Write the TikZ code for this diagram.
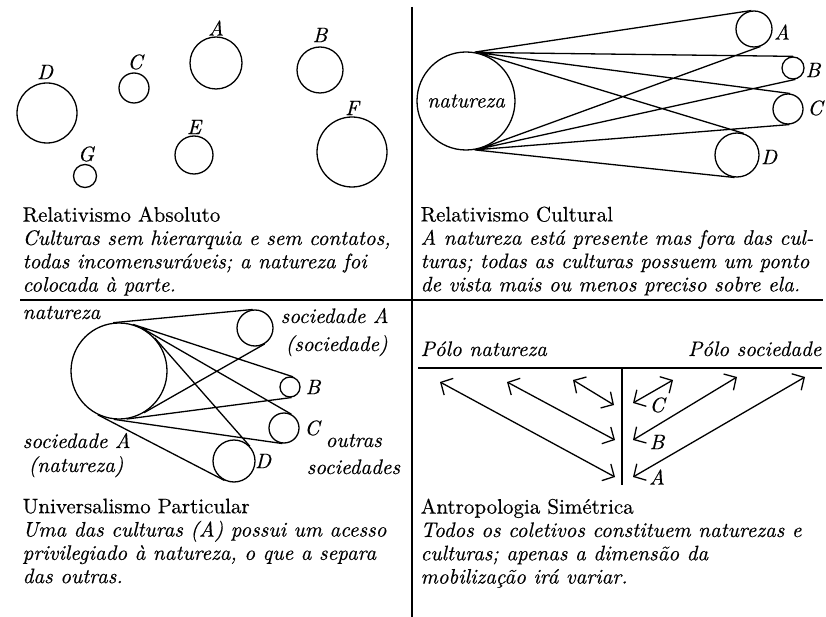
\documentclass[tikz,border=0pt]{standalone}
\usepackage{fontspec}
\setmainfont{lmroman10-regular}[Extension=.otf, ItalicFont=lmroman10-italic, FakeBold=0.4]
\usepackage{tikz}
\usetikzlibrary{arrows.meta}

\tikzset{
  ring/.style={circle, draw, inner sep=0pt, minimum size=#1},
  lbl/.style={font=\fontsize{21}{23.3}\selectfont\itshape, inner sep=0pt},
  caption/.style={font=\fontsize{21}{23.3}\selectfont, align=left, anchor=north west, inner sep=0pt},
  pull/.style={{Straight Barb[length=9pt,width=19pt]}-{Straight Barb[length=9pt,width=19pt]}},
}

\begin{document}
\begin{tikzpicture}[x=1pt, y=-1pt, line width=1.3pt]
\useasboundingbox (0,0) rectangle (826,617);

% dividers
\draw (412,7) -- (412,617);
\draw (20,300) -- (823,300);

% relativismo absoluto
\node[ring=52] (absA) at (216,63) {};
\node[ring=46] (absB) at (320,70) {};
\node[ring=30] (absC) at (134,88) {};
\node[ring=60] (absD) at (47,113) {};
\node[ring=38] (absE) at (194,155) {};
\node[ring=70] (absF) at (352,152) {};
\node[ring=23] (absG) at (85,176) {};
\node[lbl] (absAl) at (216,28) {A};
\node[lbl] (absBl) at (320,35) {B};
\node[lbl] (absCl) at (135,62) {C};
\node[lbl] (absDl) at (45,72) {D};
\node[lbl] (absEl) at (194,127) {E};
\node[lbl] (absFl) at (352,108) {F};
\node[lbl] (absGl) at (86,154) {G};
\node[caption] (capAbs) at (22,206) {Relativismo Absoluto\\
  \textit{Culturas sem hierarquia e sem contatos,}\\
  \textit{todas incomensuráveis; a natureza foi}\\
  \textit{colocada à parte.}};

% relativismo cultural
\node[ring=98, font=\fontsize{21}{23.3}\selectfont\itshape] (nat) at (466,101) {natureza};
\node[ring=36] (cultA) at (754,29) {};
\node[ring=22] (cultB) at (793,68) {};
\node[ring=30] (cultC) at (788,109) {};
\node[ring=44] (cultD) at (737,155) {};
\node[lbl] (cultAl) at (782,32) {A};
\node[lbl] (cultBl) at (813,70) {B};
\node[lbl] (cultCl) at (815,108) {C};
\node[lbl] (cultDl) at (769,157) {D};
\draw (nat.80) -- (cultA.98)
      (nat.78) -- (cultB.89)
      (nat.78) -- (cultC.82)
      (nat.73) -- (cultD.73)
      (nat.-70) -- (cultA.-70)
      (nat.-77) -- (cultB.-78)
      (nat.-80) -- (cultC.-85)
      (nat.-80) -- (cultD.-96);
\node[caption] (capCult) at (420,206) {Relativismo Cultural\\
  \textit{A natureza está presente mas fora das cul-}\\
  \textit{turas; todas as culturas possuem um ponto}\\
  \textit{de vista mais ou menos preciso sobre ela.}};

% universalismo particular
\node[ring=96] (big) at (119,371) {};
\node[ring=36] (univA) at (255,328) {};
\node[ring=20] (univB) at (290,387) {};
\node[ring=30] (univC) at (284,428) {};
\node[ring=42] (univD) at (234,461) {};
\draw (big.97) -- (univA.97)
      (big.73) -- (univB.73)
      (big.62) -- (univC.62)
      (big.43) -- (univD.43)
      (big.-59) -- (univA.-59)
      (big.-81) -- (univB.-81)
      (big.-96) -- (univC.-96)
      (big.-116) -- (univD.-116);
\node[lbl, anchor=base west] (univNat) at (22,319) {natureza};
\node[lbl, anchor=base west] (univSoc) at (280,323) {sociedade A};
\node[lbl, anchor=base west] (univSoc2) at (285,351) {(sociedade)};
\node[lbl] (univBl) at (313,387) {B};
\node[lbl] (univCl) at (312,428) {C};
\node[lbl] (univDl) at (263,461) {D};
\node[lbl, anchor=base west] (univOut) at (325,447) {outras};
\node[lbl, anchor=base west] (univOut2) at (306,474) {sociedades};
\node[lbl, anchor=base west] (univNat1) at (22,448) {sociedade A};
\node[lbl, anchor=base west] (univNat2) at (28,472) {(natureza)};
\node[caption] (capUniv) at (22,498) {Universalismo Particular\\
  \textit{Uma das culturas (A) possui um acesso}\\
  \textit{privilegiado à natureza, o que a separa}\\
  \textit{das outras.}};

% antropologia simetrica
\node[lbl, anchor=base west] (poleN) at (420,356) {Pólo natureza};
\node[lbl, anchor=base east] (poleS) at (822,356) {Pólo sociedade};
\draw (418,368) -- (822,368);
\draw (622,368) -- (622,485);
\coordinate (nA) at (440,382);
\coordinate (nB) at (507,382);
\coordinate (nC) at (573,380);
\coordinate (mnA) at (615,477);
\coordinate (mnB) at (615,440);
\coordinate (mnC) at (614,405);
\coordinate (msA) at (633,477);
\coordinate (msB) at (633,440);
\coordinate (msC) at (633,403);
\coordinate (sA) at (805,377);
\coordinate (sB) at (737,377);
\coordinate (sC) at (673,380);
\draw[pull] (nA) -- (mnA);
\draw[pull] (nB) -- (mnB);
\draw[pull] (nC) -- (mnC);
\draw[pull] (msA) -- (sA);
\draw[pull] (msB) -- (sB);
\draw[pull] (msC) -- (sC);
\node[lbl] (symC) at (657,405) {C};
\node[lbl] (symB) at (657,442) {B};
\node[lbl] (symA) at (657,477) {A};
\node[caption] (capSim) at (420,498) {Antropologia Simétrica\\
  \textit{Todos os coletivos constituem naturezas e}\\
  \textit{culturas; apenas a dimensão da}\\
  \textit{mobilização irá variar.}};
\end{tikzpicture}
\end{document}
